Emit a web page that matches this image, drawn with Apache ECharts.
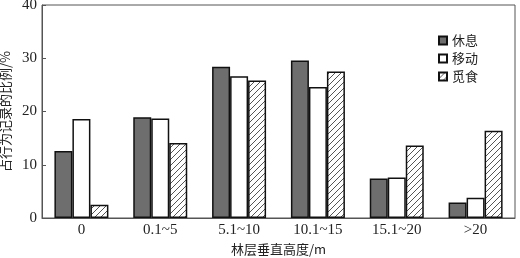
<!DOCTYPE html>
<html><head><meta charset="utf-8">
<script src="https://cdn.jsdelivr.net/npm/echarts@6/dist/echarts.min.js"></script>
<style>html,body{margin:0;padding:0;background:#fff}#c{width:520px;height:258px}</style>
</head><body><div id="c"></div>
<script>
const categories = ['0', '0.1~5', '5.1~10', '10.1~15', '15.1~20', '>20'];
const seriesNames = ['休息', '移动', '觅食'];
const restValues = [12.6, 18.9, 28.4, 29.6, 7.4, 2.9];
const moveValues = [18.6, 18.7, 26.6, 24.6, 7.6, 3.8];
const forageValues = [2.5, 14.1, 25.8, 27.5, 13.6, 16.4];
const yTicks = [0, 10, 20, 30, 40];

function hatch() {
  const c = document.createElement('canvas');
  c.width = 6; c.height = 6;
  const g = c.getContext('2d');
  g.fillStyle = '#fff'; g.fillRect(0, 0, 6, 6);
  g.strokeStyle = '#555'; g.lineWidth = 1;
  g.beginPath();
  g.moveTo(-1, 7); g.lineTo(7, -1);
  g.moveTo(-1, 1); g.lineTo(1, -1);
  g.moveTo(5, 7); g.lineTo(7, 5);
  g.stroke();
  return c;
}
const serif = 'Liberation Serif';
const cjk = 'Noto Sans CJK SC';
const chart = echarts.init(document.getElementById('c'), null, {renderer: 'canvas'});
const fills = ['#6e6e6e', '#ffffff', {image: hatch(), repeat: 'repeat'}];
const vals = [restValues, moveValues, forageValues];
chart.setOption({
  animation: false,
  grid: {left: 42, right: 5, top: 5, bottom: 40, outerBoundsMode: 'none', containLabel: false, show: true, borderColor: '#555', borderWidth: 1, backgroundColor: 'transparent'},
  legend: {
    orient: 'vertical', left: 433, top: 29, itemWidth: 8, itemHeight: 8, itemGap: 5,
    icon: 'rect',
    textStyle: {fontSize: 13, color: '#222', fontFamily: cjk},
    data: seriesNames
  },
  xAxis: {
    type: 'category', data: categories,
    name: '林层垂直高度/m', nameLocation: 'middle', nameGap: 23,
    nameTextStyle: {fontSize: 13, color: '#222', fontFamily: cjk},
    axisLine: {lineStyle: {color: '#555', width: 1}},
    axisTick: {inside: true, length: 4, lineStyle: {color: '#555'}},
    axisLabel: {fontSize: 15, color: '#222', fontFamily: serif, margin: 5}
  },
  yAxis: {
    type: 'value', min: yTicks[0], max: yTicks[yTicks.length - 1], interval: 10,
    name: '占行为记录的比例/%', nameLocation: 'middle', nameGap: 28, nameRotate: 90,
    nameTextStyle: {fontSize: 13, color: '#222', fontFamily: cjk},
    axisLine: {show: true, lineStyle: {color: '#555', width: 1}},
    axisTick: {show: true, inside: true, length: 4, lineStyle: {color: '#555'}},
    splitLine: {show: false},
    axisLabel: {fontSize: 15, color: '#222', fontFamily: serif, margin: 5}
  },
  series: seriesNames.map((n, i) => ({
    name: n, type: 'bar', data: vals[i], barWidth: 18, barGap: '0%',
    itemStyle: {color: fills[i], borderColor: '#111', borderWidth: 1.5}
  }))
});
</script></body></html>
